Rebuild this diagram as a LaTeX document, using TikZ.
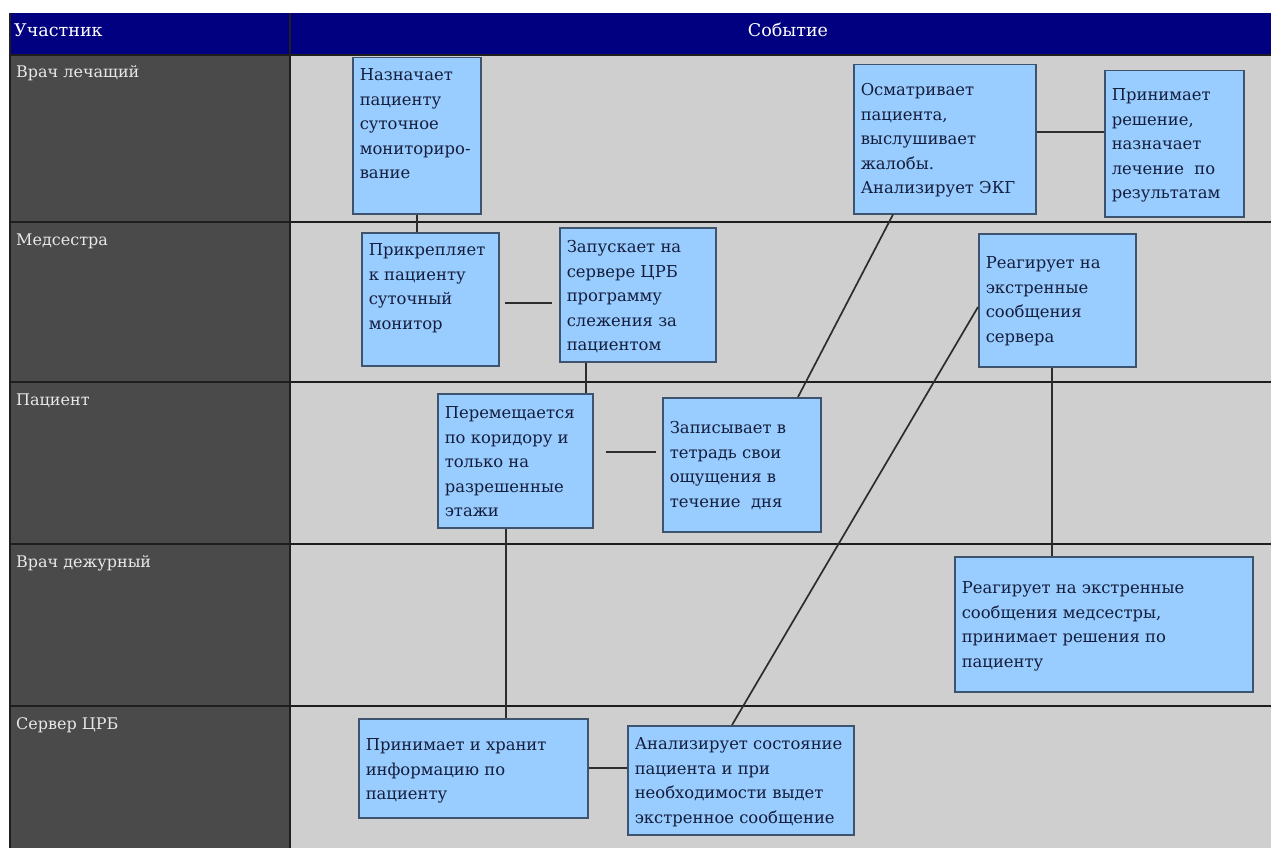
\documentclass[tikz,border=0pt]{standalone}
\usepackage{fontspec}
\setmainfont{DejaVu Serif}
\usetikzlibrary{calc}
\definecolor{hdr}{RGB}{0,0,128}
\definecolor{lane}{RGB}{74,74,74}
\definecolor{area}{RGB}{207,207,207}
\definecolor{boxfill}{RGB}{153,204,255}
\definecolor{boxline}{RGB}{62,84,110}
\definecolor{boxtext}{RGB}{20,30,60}
\definecolor{lanetext}{RGB}{232,232,232}
\definecolor{gridline}{RGB}{30,30,30}
\definecolor{connline}{RGB}{45,45,45}
\tikzset{
  stepbox/.style={draw=boxline,fill=boxfill,line width=1.5pt,inner xsep=7pt,inner ysep=0pt,text=boxtext,anchor=north west,font=\fontsize{16.4}{24.5}\selectfont},
  lanelabel/.style={anchor=base west,inner sep=0pt,text=lanetext,font=\fontsize{16}{20}\selectfont},
  hdrlabel/.style={anchor=base,inner sep=0pt,text=white,font=\fontsize{17.5}{20}\selectfont},
  gridrule/.style={draw=gridline,line width=1.2pt},
  conn/.style={draw=connline,line width=1.7pt}
}
\newcommand\bx[7]{\node[stepbox] (#1) at (#2,#3) {\parbox[t][#5pt][t]{\dimexpr#4pt-14pt\relax}{\raggedright\vspace*{#6pt}#7}};}
\begin{document}
\begin{tikzpicture}[x=1pt,y=-1pt]
\useasboundingbox (0,0) rectangle (1271,848);
\fill[white] (0,0) rectangle (1271,848);
\fill[hdr] (10,13) rectangle (1271,55);
\fill[lane] (10,55) rectangle (290,848);
\fill[area] (290,55) rectangle (1271,848);
\foreach \yy in {55,222,382,544,706} {\draw[gridrule] (10,\yy) -- (1271,\yy);}
\draw[gridrule] (10,13) -- (10,848);
\draw[gridrule] (290,13) -- (290,848);
% header
\node[hdrlabel,anchor=base west] (hpart) at (14,37) {Участник};
\node[hdrlabel] (hevent) at (788,37) {Событие};
% lane labels
\node[lanelabel] (l1) at (16,78) {Врач лечащий};
\node[lanelabel] (l2) at (16,245) {Медсестра};
\node[lanelabel] (l3) at (16,405) {Пациент};
\node[lanelabel] (l4) at (16,567) {Врач дежурный};
\node[lanelabel] (l5) at (16,729) {Сервер ЦРБ};
% boxes
\bx{nazn}{352}{57}{128}{156}{11}{Назначает\\ пациенту\\ суточное\\ мониториро-\\ вание}
\bx{osm}{853}{64}{182}{149}{19}{Осматривает\\ пациента,\\ выслушивает\\ жалобы.\\ Анализирует ЭКГ}
\bx{prd}{1104}{70}{139}{146}{18}{Принимает\\ решение,\\ назначает\\ лечение\ \ по\\ результатам}
\bx{prik}{361}{232}{137}{133}{11}{Прикрепляет\\ к пациенту\\ суточный\\ монитор}
\bx{zap}{559}{227}{156}{134}{13}{Запускает на\\ сервере ЦРБ\\ программу\\ слежения за\\ пациентом}
\bx{rs}{978}{233}{157}{133}{23}{Реагирует на\\ экстренные\\ сообщения\\ сервера}
\bx{per}{437}{393}{155}{134}{13}{Перемещается\\ по коридору и\\ только на\\ разрешенные\\ этажи}
\bx{zpn}{662}{397}{158}{134}{24}{Записывает в\\ тетрадь свои\\ ощущения в\\ течение\ \ дня}
\bx{rm}{954}{556}{298}{135}{25}{Реагирует на экстренные\\ сообщения медсестры,\\ принимает решения по\\ пациенту}
\bx{prin}{358}{718}{229}{99}{20}{Принимает и хранит\\ информацию по\\ пациенту}
\bx{anal}{627}{725}{226}{109}{12}{Анализирует состояние\\ пациента и при\\ необходимости выдет\\ экстренное сообщение}
% connectors
\draw[conn] (nazn.south) -- (nazn.south |- prik.north);
\draw[conn] ($(prik.east)+(5,4)$) -- ($(zap.west |- prik.east)+(-7,4)$);
\coordinate (zapB) at ($(zap.south west)+(27,0)$);
\draw[conn] (zapB) -- (zapB |- per.north);
\draw[conn] ($(per.east)+(12,-9)$) -- ($(zpn.west |- per.east)+(-6,-9)$);
\coordinate (perB) at ($(per.south west)+(69,0)$);
\draw[conn] (perB) -- (perB |- prin.north);
\draw[conn] (prin.east) -- (anal.west |- prin.east);
\draw[conn] ($(anal.north west)+(105,0)$) -- ($(rs.north west)+(0,74)$);
\draw[conn] ($(zpn.north west)+(136,0)$) -- ($(osm.south west)+(40,0)$);
\coordinate (rsB) at ($(rs.south west)+(74,0)$);
\draw[conn] (rsB) -- (rsB |- rm.north);
\draw[conn] ($(osm.east)+(0,-7.5)$) -- ($(prd.west |- osm.east)+(0,-7.5)$);
\end{tikzpicture}
\end{document}
